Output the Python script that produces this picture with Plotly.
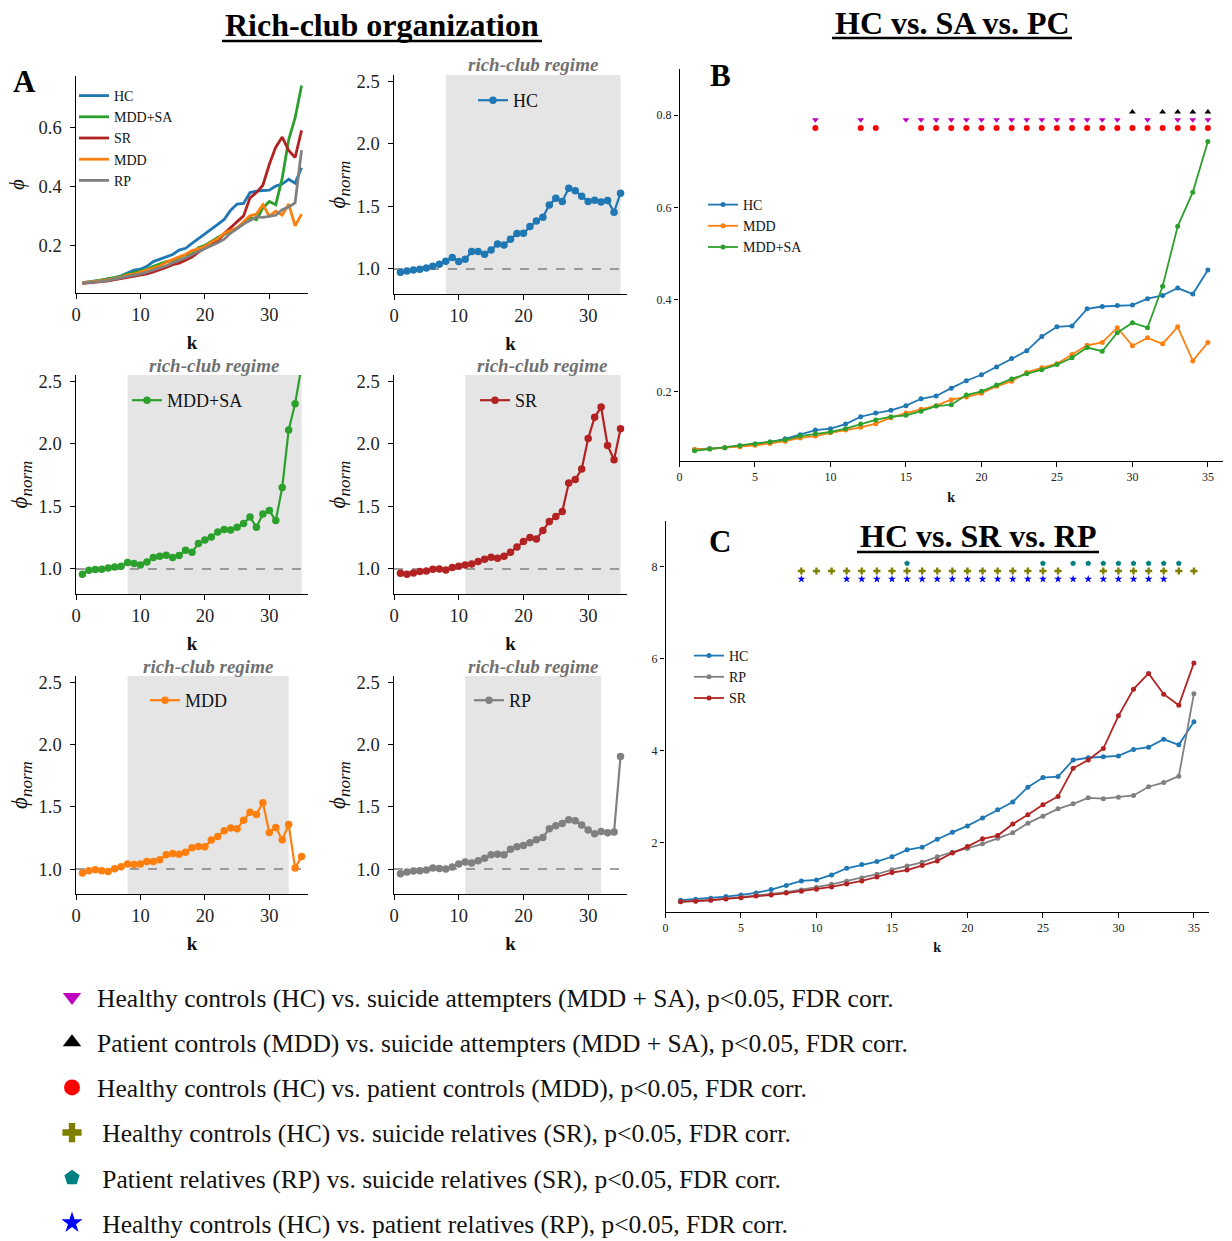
import plotly.graph_objects as go

W, H = 1232, 1241
FONT = "Liberation Serif"

# ---------------- data ----------------
K = list(range(1, 36))

HC_PHI = [0.075, 0.077, 0.079, 0.083, 0.087, 0.091, 0.098, 0.107, 0.117, 0.120, 0.130, 0.146, 0.154, 0.160, 0.170,
          0.185, 0.191, 0.208, 0.224, 0.237, 0.254, 0.272, 0.289, 0.320, 0.341, 0.343, 0.380, 0.385, 0.387, 0.388,
          0.402, 0.409, 0.425, 0.412, 0.464]
MDD_PHI = [0.075, 0.076, 0.079, 0.081, 0.084, 0.088, 0.093, 0.100, 0.104, 0.111, 0.117, 0.123, 0.131, 0.144, 0.154,
           0.162, 0.170, 0.183, 0.189, 0.197, 0.212, 0.223, 0.242, 0.252, 0.261, 0.281, 0.301, 0.307, 0.339, 0.300,
           0.317, 0.304, 0.341, 0.267, 0.307]
MDDSA_PHI = [0.072, 0.076, 0.079, 0.083, 0.087, 0.091, 0.096, 0.104, 0.109, 0.113, 0.120, 0.130, 0.139, 0.146, 0.149,
             0.158, 0.169, 0.172, 0.193, 0.201, 0.215, 0.228, 0.239, 0.248, 0.259, 0.274, 0.296, 0.288, 0.328, 0.350,
             0.339, 0.429, 0.559, 0.633, 0.743]
SR_PHI = [0.072, 0.0735, 0.0755, 0.0785, 0.081, 0.085, 0.087, 0.091, 0.095, 0.0995, 0.1045, 0.111, 0.1175, 0.126,
          0.1356, 0.141, 0.151, 0.161, 0.178, 0.192, 0.209, 0.216, 0.241, 0.261, 0.283, 0.301, 0.362, 0.380, 0.405,
          0.476, 0.534, 0.568, 0.523, 0.499, 0.591]
RP_PHI = [0.0727, 0.074, 0.076, 0.079, 0.082, 0.0864, 0.0893, 0.093, 0.098, 0.104, 0.110, 0.117, 0.124, 0.132, 0.142,
          0.150, 0.158, 0.170, 0.180, 0.188, 0.198, 0.210, 0.222, 0.243, 0.258, 0.274, 0.285, 0.298, 0.296, 0.299,
          0.303, 0.322, 0.331, 0.345, 0.524]

HC_C = [0.755, 0.777, 0.80, 0.835, 0.87, 0.915, 0.987, 1.074, 1.175, 1.197, 1.305, 1.45, 1.53, 1.595, 1.70, 1.85,
        1.906, 2.08, 2.23, 2.37, 2.54, 2.72, 2.89, 3.21, 3.42, 3.44, 3.80, 3.85, 3.87, 3.89, 4.03, 4.08, 4.25, 4.13,
        4.63]
RP_C = [0.727, 0.74, 0.76, 0.79, 0.82, 0.864, 0.893, 0.93, 0.98, 1.04, 1.10, 1.17, 1.24, 1.32, 1.42, 1.50, 1.58,
        1.70, 1.80, 1.88, 1.98, 2.10, 2.22, 2.43, 2.58, 2.74, 2.85, 2.98, 2.96, 2.99, 3.03, 3.22, 3.31, 3.45, 5.24]
SR_C = [0.72, 0.735, 0.755, 0.785, 0.81, 0.85, 0.87, 0.91, 0.95, 0.995, 1.045, 1.11, 1.175, 1.26, 1.356, 1.41, 1.51,
        1.61, 1.78, 1.92, 2.09, 2.16, 2.41, 2.61, 2.83, 3.01, 3.62, 3.80, 4.05, 4.76, 5.34, 5.68, 5.23, 4.99, 5.91]

HC_NORM = [0.973, 0.984, 0.992, 0.997, 1.008, 1.021, 1.037, 1.061, 1.091, 1.059, 1.077, 1.139, 1.139, 1.117, 1.152,
           1.200, 1.192, 1.238, 1.283, 1.286, 1.339, 1.384, 1.414, 1.512, 1.566, 1.539, 1.646, 1.625, 1.582, 1.539,
           1.550, 1.536, 1.547, 1.454, 1.606]
MDDSA_NORM = [0.957, 0.989, 0.995, 0.997, 1.008, 1.016, 1.021, 1.051, 1.043, 1.032, 1.056, 1.091, 1.101, 1.109, 1.091,
              1.107, 1.149, 1.133, 1.203, 1.232, 1.256, 1.296, 1.315, 1.312, 1.334, 1.363, 1.416, 1.334, 1.440, 1.467,
              1.387, 1.651, 2.110, 2.321, 2.620]
SR_NORM = [0.965, 0.957, 0.968, 0.979, 0.984, 0.997, 1.000, 0.992, 1.011, 1.021, 1.032, 1.040, 1.059, 1.077, 1.093,
           1.085, 1.101, 1.133, 1.176, 1.219, 1.251, 1.240, 1.307, 1.379, 1.419, 1.459, 1.686, 1.715, 1.798, 2.043,
           2.212, 2.294, 1.987, 1.873, 2.121]
MDD_NORM = [0.968, 0.987, 0.995, 0.987, 0.981, 1.003, 1.019, 1.040, 1.037, 1.040, 1.061, 1.061, 1.075, 1.115, 1.126,
            1.120, 1.136, 1.171, 1.182, 1.179, 1.233, 1.262, 1.307, 1.329, 1.324, 1.393, 1.457, 1.439, 1.532, 1.294,
            1.334, 1.235, 1.358, 1.008, 1.102]
RP_NORM = [0.963, 0.976, 0.984, 0.987, 0.992, 1.008, 1.005, 1.000, 1.016, 1.040, 1.056, 1.048, 1.067, 1.086, 1.115,
           1.120, 1.115, 1.160, 1.179, 1.190, 1.211, 1.235, 1.254, 1.324, 1.348, 1.366, 1.396, 1.388, 1.353, 1.313,
           1.283, 1.302, 1.291, 1.297, 1.904]

# rich-club regime (start k, end k)
REGIME_HC = [8, 35]
REGIME_MDDSA = [8, 35]
REGIME_SR = [11, 35]
REGIME_MDD = [8, 33]
REGIME_RP = [11, 32]

# significant k values
SIG_HC_SA = [9, 12, 15, 16, 17, 18, 19, 20, 21, 22, 23, 24, 25, 26, 27, 28, 29, 31, 33, 34, 35]
SIG_MDD_SA = [30, 32, 33, 34, 35]
SIG_HC_MDD = [9, 12, 13, 16, 17, 18, 19, 20, 21, 22, 23, 24, 25, 26, 27, 28, 29, 30, 31, 32, 33, 34, 35]
SIG_HC_SR = [9, 10, 11, 12, 13, 14, 15, 16, 17, 18, 19, 20, 21, 22, 23, 24, 25, 26, 29, 30, 31, 32, 33, 34, 35]
SIG_RP_SR = [16, 25, 27, 28, 29, 30, 31, 32, 33, 34]
SIG_HC_RP = [9, 12, 13, 14, 15, 16, 17, 18, 19, 20, 21, 22, 23, 24, 25, 26, 27, 28, 29, 30, 31, 32, 33]

SIG_LABELS = [
    "\u2009Healthy controls (HC) vs. suicide attempters (MDD + SA), p&lt;0.05, FDR corr.",
    "\u2009Patient controls (MDD) vs. suicide attempters (MDD + SA), p&lt;0.05, FDR corr.",
    "\u2009Healthy controls (HC) vs. patient controls (MDD), p&lt;0.05, FDR corr.",
    "\u2009\u2009Healthy controls (HC) vs. suicide relatives (SR), p&lt;0.05, FDR corr.",
    "\u2009\u2009Patient relatives (RP) vs. suicide relatives (SR), p&lt;0.05, FDR corr.",
    "\u2009\u2009Healthy controls (HC) vs. patient relatives (RP), p&lt;0.05, FDR corr.",
]

# ---------------- styles ----------------
C_HC = "#1f77b4"
C_MDDSA = "#2ca02c"
C_SR = "#b22222"
C_MDD = "#ff7f0e"
C_RP = "#808080"


def px(xp):
    return xp / W


def py(yp):
    return 1 - yp / H


fig = go.Figure()

# ---- Panel A top (phi) ----
for name, ys, col in [("HC", HC_PHI, C_HC), ("MDD+SA", MDDSA_PHI, C_MDDSA), ("SR", SR_PHI, C_SR),
                      ("MDD", MDD_PHI, C_MDD), ("RP", RP_PHI, C_RP)]:
    fig.add_trace(go.Scatter(x=K, y=ys, mode="lines", name=name, line=dict(color=col, width=2.8),
                             xaxis="x", yaxis="y", legend="legend"))

# ---- normalized panels ----
norm_panels = [
    (2, "HC", HC_NORM, C_HC, REGIME_HC, "legend2"),
    (3, "MDD+SA", MDDSA_NORM, C_MDDSA, REGIME_MDDSA, "legend3"),
    (4, "SR", SR_NORM, C_SR, REGIME_SR, "legend4"),
    (5, "MDD", MDD_NORM, C_MDD, REGIME_MDD, "legend5"),
    (6, "RP", RP_NORM, C_RP, REGIME_RP, "legend6"),
]
for idx, name, ys, col, reg, lg in norm_panels:
    fig.add_trace(go.Scatter(x=K, y=ys, mode="lines+markers", name=name,
                             line=dict(color=col, width=2.2), marker=dict(color=col, size=7.5),
                             xaxis=f"x{idx}", yaxis=f"y{idx}", legend=lg))

# ---- Panel B ----
for name, ys, col in [("HC", HC_PHI, C_HC), ("MDD", MDD_PHI, C_MDD), ("MDD+SA", MDDSA_PHI, C_MDDSA)]:
    fig.add_trace(go.Scatter(x=K, y=ys, mode="lines+markers", name=name,
                             line=dict(color=col, width=1.8), marker=dict(color=col, size=5),
                             xaxis="x7", yaxis="y7", legend="legend7"))
LEVEL_B = {"circle": 0.772, "tdown": 0.790, "tup": 0.8065}
fig.add_trace(go.Scatter(x=SIG_HC_MDD, y=[LEVEL_B["circle"]] * len(SIG_HC_MDD), mode="markers",
                         marker=dict(symbol="circle", color="#ff0000", size=6), showlegend=False,
                         xaxis="x7", yaxis="y7"))
fig.add_trace(go.Scatter(x=SIG_HC_SA, y=[LEVEL_B["tdown"]] * len(SIG_HC_SA), mode="markers",
                         marker=dict(symbol="triangle-down", color="#bf00bf", size=6), showlegend=False,
                         xaxis="x7", yaxis="y7"))
fig.add_trace(go.Scatter(x=SIG_MDD_SA, y=[LEVEL_B["tup"]] * len(SIG_MDD_SA), mode="markers",
                         marker=dict(symbol="triangle-up", color="#000000", size=6), showlegend=False,
                         xaxis="x7", yaxis="y7"))

# ---- Panel C ----
for name, ys, col in [("HC", HC_C, C_HC), ("RP", RP_C, C_RP), ("SR", SR_C, C_SR)]:
    fig.add_trace(go.Scatter(x=K, y=ys, mode="lines+markers", name=name,
                             line=dict(color=col, width=1.8), marker=dict(color=col, size=5),
                             xaxis="x8", yaxis="y8", legend="legend8"))
LEVEL_C = {"pent": 8.07, "cross": 7.906, "star": 7.73}
fig.add_trace(go.Scatter(x=SIG_RP_SR, y=[LEVEL_C["pent"]] * len(SIG_RP_SR), mode="markers",
                         marker=dict(symbol="pentagon", color="#008080", size=6), showlegend=False,
                         xaxis="x8", yaxis="y8"))
fig.add_trace(go.Scatter(x=SIG_HC_SR, y=[LEVEL_C["cross"]] * len(SIG_HC_SR), mode="markers",
                         marker=dict(symbol="cross", color="#808000", size=6), showlegend=False,
                         xaxis="x8", yaxis="y8"))
fig.add_trace(go.Scatter(x=SIG_HC_RP, y=[LEVEL_C["star"]] * len(SIG_HC_RP), mode="markers",
                         marker=dict(symbol="star", color="#0000ff", size=6), showlegend=False,
                         xaxis="x8", yaxis="y8"))

# ---- bottom significance legend (legend-only entries) ----
sig_styles = [("triangle-down", "#bf00bf"), ("triangle-up", "#000000"), ("circle", "#ff0000"),
              ("cross", "#808000"), ("pentagon", "#008080"), ("star", "#0000ff")]
for i, ((sym, col), lab) in enumerate(zip(sig_styles, SIG_LABELS)):
    fig.add_trace(go.Scatter(x=[None], y=[None], mode="markers", name=lab,
                             marker=dict(symbol=sym, color=col, size=16),
                             legend="legend9", legendgroup=f"g{i}", xaxis="x7", yaxis="y7"))


# ---------------- axes ----------------
def axis(domain, rng, tickvals, size, fmt=None, title=None, tsize=19, standoff=6, lstand=0):
    d = dict(domain=domain, range=rng, tickvals=tickvals, showline=True, linecolor="black", linewidth=1.2,
             ticks="outside", ticklen=4.5, tickcolor="black", tickwidth=1.1, showgrid=False, zeroline=False,
             tickfont=dict(family=FONT, size=size, color="#222"), mirror=False, fixedrange=True,
             ticklabelstandoff=lstand, automargin=False)
    if fmt:
        d["tickformat"] = fmt
    if title:
        d["title"] = dict(text=title, font=dict(family=FONT, size=tsize, color="#111"), standoff=standoff)
    return d


layout = {}
XT = [0, 10, 20, 30]
NT = [1.0, 1.5, 2.0, 2.5]
NORM_Y = "<i>ϕ</i><sub><i><span style='font-size:17px'>norm</span></i></sub>"
TS = 18.5
# A top
layout["xaxis"] = axis([px(76), px(308)], [0, 36], XT, TS, title="<b>k</b>", standoff=11)
layout["xaxis"]["anchor"] = "y"
layout["yaxis"] = axis([py(293.3), py(75.6)], [0.0385, 0.7765], [0.2, 0.4, 0.6], TS, ".1f",
                       title="<i>ϕ</i>", tsize=21, standoff=8, lstand=5)
layout["yaxis"]["anchor"] = "x"
cols = {2: (394, 627), 3: (76, 308), 4: (394, 627), 5: (76, 308), 6: (394, 627)}
rows = {2: (75, 294), 3: (375, 594), 4: (375, 594), 5: (676, 894), 6: (676, 894)}
for idx in range(2, 7):
    x0, x1 = cols[idx]
    y0, y1 = rows[idx]
    layout[f"xaxis{idx}"] = axis([px(x0), px(x1)], [0, 36], XT, TS, title="<b>k</b>", standoff=11)
    layout[f"xaxis{idx}"]["anchor"] = f"y{idx}"
    layout[f"yaxis{idx}"] = axis([py(y1), py(y0)], [0.8, 2.55], NT, TS, ".1f", title=NORM_Y, tsize=23,
                                 standoff=4, lstand=5)
    layout[f"yaxis{idx}"]["anchor"] = f"x{idx}"
# B
layout["xaxis7"] = axis([px(679.5), px(1223)], [0, 36], [0, 5, 10, 15, 20, 25, 30, 35], 12,
                        title="<b>k</b>", tsize=14, standoff=9)
layout["xaxis7"]["anchor"] = "y7"
layout["yaxis7"] = axis([py(461), py(69)], [0.05, 0.9], [0.2, 0.4, 0.6, 0.8], 12, ".1f")
layout["yaxis7"]["anchor"] = "x7"
# C
layout["xaxis8"] = axis([px(665.5), px(1209)], [0, 36], [0, 5, 10, 15, 20, 25, 30, 35], 12,
                        title="<b>k</b>", tsize=14, standoff=8)
layout["xaxis8"]["anchor"] = "y8"
layout["yaxis8"] = axis([py(912), py(520.6)], [0.5, 9.0], [2, 4, 6, 8], 12)
layout["yaxis8"]["anchor"] = "x8"


def leg(xp, yp, size, **kw):
    d = dict(x=px(xp), y=py(yp), xanchor="left", yanchor="top", bgcolor="rgba(0,0,0,0)", borderwidth=0,
             font=dict(family=FONT, size=size, color="#111"))
    d.update(kw)
    return d


layout["legend"] = leg(74, 80, 14)
layout["legend2"] = leg(473, 82, 18)
layout["legend3"] = leg(127, 382, 18)
layout["legend4"] = leg(475, 382, 18)
layout["legend5"] = leg(145, 682, 18)
layout["legend6"] = leg(469, 682, 18)
layout["legend7"] = leg(703, 189, 14)
layout["legend8"] = leg(689, 640, 14)
layout["legend9"] = leg(52, 974, 25.5, tracegroupgap=9, itemsizing="trace")

# ---------------- shapes & annotations ----------------
shapes = []
annotations = []
for idx, name, ys, col, reg, lg in norm_panels:
    shapes.append(dict(type="rect", xref=f"x{idx}", yref=f"y{idx} domain", x0=reg[0], x1=reg[1], y0=0, y1=1,
                       fillcolor="#e5e5e5", line=dict(width=0), layer="below"))
    shapes.append(dict(type="line", xref=f"x{idx} domain", yref=f"y{idx}", x0=0, x1=1, y0=1, y1=1,
                       line=dict(color="#808080", width=1.5, dash="dash"), layer="below"))
    top = rows[idx][0]
    annotations.append(dict(text="<b><i>rich-club regime</i></b>", xref=f"x{idx}", yref="paper",
                            x=(reg[0] + reg[1]) / 2, y=py(top - 10), xanchor="center", yanchor="middle",
                            showarrow=False, font=dict(family=FONT, size=19, color="#707070")))

titles = [("Rich-club organization", 382, 25, 222, 542, 41),
          ("HC vs. SA vs. PC", 952, 23, 832, 1072, 38),
          ("HC vs. SR vs. RP", 978, 536, 857, 1099, 552)]
for txt, cx, cy, ux0, ux1, uy in titles:
    annotations.append(dict(text=f"<b>{txt}</b>", xref="paper", yref="paper", x=px(cx), y=py(cy),
                            xanchor="center", yanchor="middle", showarrow=False,
                            font=dict(family=FONT, size=32, color="#000")))
    shapes.append(dict(type="line", xref="paper", yref="paper", x0=px(ux0), x1=px(ux1), y0=py(uy), y1=py(uy),
                       line=dict(color="#000", width=2.5)))

for letter, lx, ly in [("A", 24, 81), ("B", 720, 75), ("C", 720, 541)]:
    annotations.append(dict(text=f"<b>{letter}</b>", xref="paper", yref="paper", x=px(lx), y=py(ly),
                            xanchor="center", yanchor="middle", showarrow=False,
                            font=dict(family=FONT, size=31, color="#000")))

fig.update_layout(width=W, height=H, margin=dict(l=0, r=0, t=0, b=0, autoexpand=False),
                  paper_bgcolor="white", plot_bgcolor="rgba(0,0,0,0)", shapes=shapes,
                  annotations=annotations, showlegend=True, font=dict(family=FONT), **layout)

fig.write_html("out.html", config={"displayModeBar": False},
               post_script="document.body.style.margin='0px';")
